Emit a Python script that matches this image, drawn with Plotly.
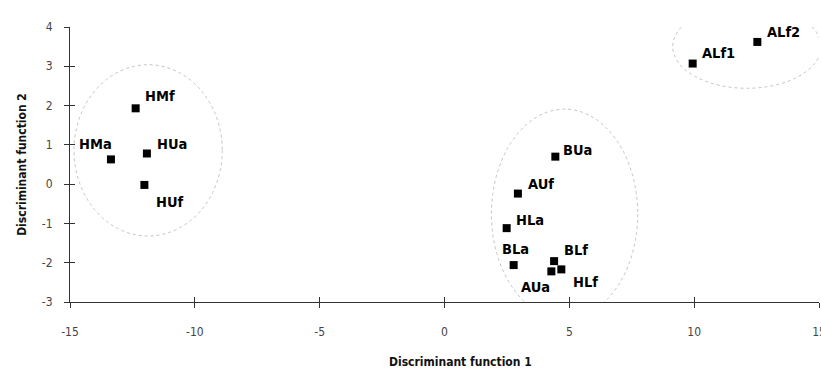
import plotly.graph_objects as go

# ---- data ----
labels = ["HMf", "HMa", "HUa", "HUf", "BUa", "AUf", "HLa", "BLa", "BLf", "AUa", "HLf", "ALf1", "ALf2"]
df1 = [-12.37, -13.36, -11.92, -12.02, 4.44, 2.94, 2.49, 2.77, 4.39, 4.28, 4.68, 9.94, 12.53]
df2 = [1.93, 0.63, 0.78, -0.02, 0.70, -0.24, -1.12, -2.06, -1.96, -2.22, -2.17, 3.07, 3.62]

x_ticks = [-15, -10, -5, 0, 5, 10, 15]
y_ticks = [-3, -2, -1, 0, 1, 2, 3, 4]

# group ellipses (center x, center y, half-width, half-height) in data units
group_centers_x = [-11.87, 4.81, 12.11]
group_centers_y = [0.86, -0.76, 3.50]
group_rx = [2.97, 2.93, 2.97]
group_ry = [2.18, 2.67, 1.06]

# label placement (anchor, xshift px, yshift px)
label_pos = {
    "HMf": ("left", 7, 12), "HMa": ("right", 3, 15), "HUa": ("left", 8, 10),
    "HUf": ("left", 10, -17), "BUa": ("left", 6, 7), "AUf": ("left", 8, 10),
    "HLa": ("left", 7, 8), "BLa": ("center", 2, 16), "BLf": ("left", 8, 11),
    "AUa": ("right", 1, -16), "HLf": ("left", 10, -13), "ALf1": ("left", 7, 11),
    "ALf2": ("left", 8, 10),
}

NARROW = "DejaVu Sans Condensed, Liberation Sans Narrow, Arial Narrow, sans-serif"

fig = go.Figure()

# ellipses
for cx, cy, rx, ry in zip(group_centers_x, group_centers_y, group_rx, group_ry):
    fig.add_shape(type="circle", xref="x", yref="y",
                  x0=cx - rx, x1=cx + rx, y0=cy - ry, y1=cy + ry,
                  line=dict(color="#c4c4c4", width=1, dash="dot"), layer="below")

fig.add_trace(go.Scatter(
    x=df1, y=df2, mode="markers",
    marker=dict(symbol="square", size=8, color="black"),
    showlegend=False, hoverinfo="text", text=labels,
))

for lab, xv, yv in zip(labels, df1, df2):
    anchor, xs, ys = label_pos[lab]
    fig.add_annotation(x=xv, y=yv, text="<b>%s</b>" % lab, showarrow=False,
                       xanchor=anchor, yanchor="middle", xshift=xs, yshift=ys,
                       font=dict(family=NARROW, size=14.5, color="black"))

# x-axis title (placed as in the reference, slightly right of centre)
fig.add_annotation(xref="paper", yref="paper", x=0.521, y=-0.218,
                   text="<b>Discriminant function 1</b>", showarrow=False,
                   xanchor="center", yanchor="middle",
                   font=dict(family=NARROW, size=12, color="#111"))

# overlay axes for inward half of cross ticks
fig.add_trace(go.Scatter(x=[None], y=[None], xaxis="x2", yaxis="y2", showlegend=False))

fig.update_layout(
    width=821, height=370,
    margin=dict(l=70, r=2, t=27, b=68),
    paper_bgcolor="white", plot_bgcolor="white",
    font=dict(family=NARROW),
    xaxis=dict(range=[-15, 15], tickvals=x_ticks, ticktext=[str(v) for v in x_ticks],
               showgrid=False, zeroline=False, showline=True, linecolor="#333", linewidth=1,
               ticks="outside", ticklen=5, tickcolor="#333", automargin=False,
               ticklabeloverflow="allow",
               tickfont=dict(family=NARROW, size=12, color="#444"), ticklabelstandoff=14),
    yaxis=dict(range=[-3, 4], tickvals=y_ticks, ticktext=[str(v) for v in y_ticks],
               showgrid=False, zeroline=False,
               showline=True, linecolor="#333", linewidth=1,
               ticks="outside", ticklen=5, tickcolor="#333", automargin=False,
               tickfont=dict(family=NARROW, size=12, color="#444"), ticklabelstandoff=9,
               title=dict(text="<b>Discriminant function 2</b>", font=dict(family=NARROW, size=12, color="#111"), standoff=12)),
    xaxis2=dict(range=[-15, 15], tickvals=x_ticks, overlaying="x", side="bottom", anchor="y",
                showgrid=False, zeroline=False, showline=False, ticks="inside", ticklen=5,
                tickcolor="#333", showticklabels=False),
    yaxis2=dict(range=[-3, 4], tickvals=y_ticks, overlaying="y", side="left", anchor="x",
                showgrid=False, zeroline=False, showline=False, ticks="inside", ticklen=5,
                tickcolor="#333", showticklabels=False),
)

fig.write_html("out.html")
